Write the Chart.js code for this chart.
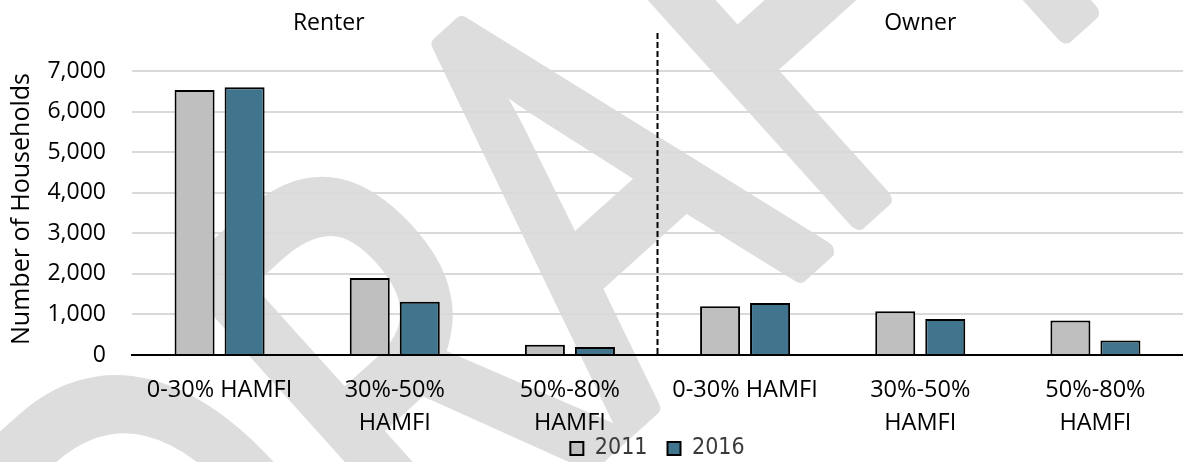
<!DOCTYPE html>
<html>
<head>
<meta charset="utf-8">
<script src="https://cdn.jsdelivr.net/npm/chart.js@4.4.1/dist/chart.umd.min.js"></script>
<style>
  html, body { margin: 0; padding: 0; background: #ffffff; }
  #wrap { width: 1183px; height: 462px; position: relative; }
</style>
</head>
<body>
<div id="wrap"><canvas id="chart"></canvas></div>
<script>
// Household counts by income band (HAMFI) and tenure
const categories = [
  '0-30% HAMFI',
  ['30%-50%', 'HAMFI'],
  ['50%-80%', 'HAMFI'],
  '0-30% HAMFI',
  ['30%-50%', 'HAMFI'],
  ['50%-80%', 'HAMFI']
];
const tenureGroups = ['Renter', 'Owner'];
const seriesNames = ['2011', '2016'];
const households2011 = [6530, 1900, 250, 1200, 1080, 850];
const households2016 = [6600, 1310, 200, 1280, 890, 360];
const yTicks = [0, 1000, 2000, 3000, 4000, 5000, 6000, 7000];

const FONT = "'Open Sans', 'DejaVu Sans', sans-serif";

// Faint diagonal, slightly condensed "DRAFT" watermark behind the plot
const watermark = {
  id: 'watermark',
  beforeDraw(chart) {
    const ctx = chart.ctx;
    const size = 570;
    const squeeze = 0.75;
    const theta = 42 * Math.PI / 180;
    ctx.save();
    ctx.font = size + 'px ' + FONT;
    const before = ctx.measureText('DR').width;
    const aWidth = ctx.measureText('A').width;
    const cap = 0.714 * size;
    // anchor the apex of the "A" just above the plot
    const apex = { x: 453, y: 37 };
    const ux = Math.cos(theta), uy = -Math.sin(theta);
    const dx = Math.sin(theta), dy = Math.cos(theta);
    const along = squeeze * (before + aWidth / 2);
    const ox = apex.x - along * ux + cap * dx;
    const oy = apex.y - along * uy + cap * dy;
    ctx.translate(ox, oy);
    ctx.rotate(-theta);
    ctx.scale(squeeze, 1);
    ctx.fillStyle = '#dddddd';
    ctx.strokeStyle = '#dddddd';
    ctx.lineWidth = 20;
    ctx.lineJoin = 'round';
    ctx.textAlign = 'left';
    ctx.textBaseline = 'alphabetic';
    ctx.fillText('DRAFT', 0, 0);
    ctx.strokeText('DRAFT', 0, 0);
    ctx.restore();
  },
  // let the two-line category labels run below the axis box
  afterLayout(chart) {
    chart.scales.x._computeLabelArea = () => null;
  }
};

// Tenure divider, group headings and vertical axis title
const tenureDivider = {
  id: 'tenureDivider',
  afterDatasetsDraw(chart) {
    const ctx = chart.ctx;
    const x = chart.scales.x;
    const area = chart.chartArea;
    const splitX = (x.getPixelForValue(2) + x.getPixelForValue(3)) / 2;
    ctx.save();
    ctx.strokeStyle = '#000000';
    ctx.lineWidth = 2;
    ctx.setLineDash([6, 3]);
    ctx.beginPath();
    ctx.moveTo(splitX, area.top - 38);
    ctx.lineTo(splitX, area.bottom);
    ctx.stroke();
    ctx.setLineDash([]);
    ctx.fillStyle = '#000000';
    ctx.font = '23px ' + FONT;
    ctx.textAlign = 'center';
    ctx.textBaseline = 'middle';
    ctx.fillText(tenureGroups[0], splitX / 2, 23);
    ctx.fillText(tenureGroups[1], (splitX + chart.width) / 2, 23);
    ctx.font = '25px ' + FONT;
    ctx.translate(22, (area.top + area.bottom) / 2 - 4);
    ctx.rotate(-Math.PI / 2);
    ctx.fillText('Number of Households', 0, 0);
    ctx.restore();
  }
};

new Chart(document.getElementById('chart'), {
  type: 'bar',
  data: {
    labels: categories,
    datasets: [
      {
        label: seriesNames[0],
        data: households2011,
        backgroundColor: '#bfbfbf',
        borderColor: '#000000',
        borderWidth: 2
      },
      {
        label: seriesNames[1],
        data: households2016,
        backgroundColor: '#41758d',
        borderColor: '#000000',
        borderWidth: 2
      }
    ]
  },
  options: {
    responsive: true,
    maintainAspectRatio: false,
    animation: false,
    categoryPercentage: 0.571,
    barPercentage: 0.8,
    layout: { padding: { top: 71, left: 0, right: 0, bottom: -8 } },
    plugins: {
      legend: {
        position: 'bottom',
        fullSize: false,
        labels: {
          boxWidth: 13,
          boxHeight: 13,
          padding: 20,
          color: '#3a3a3a',
          font: { family: "'Liberation Sans Narrow', 'DejaVu Sans Condensed', sans-serif", size: 23 }
        }
      },
      tooltip: { enabled: false }
    },
    scales: {
      x: {
        afterFit(scale) { scale.height = 62; },
        grid: { display: false, drawTicks: false },
        border: { display: true, color: '#000000', width: 2 },
        ticks: {
          color: '#000000',
          font: { family: FONT, size: 23.5, lineHeight: 1.4 },
          padding: 19,
          maxRotation: 0,
          autoSkip: false
        }
      },
      y: {
        min: 0,
        max: 7000,
        afterFit(scale) { scale.width = 132; },
        afterBuildTicks(scale) { scale.ticks = yTicks.map(v => ({ value: v })); },
        grid: { color: '#d9d9d9', lineWidth: 2, drawTicks: false },
        border: { display: false },
        ticks: {
          color: '#000000',
          font: { family: FONT, size: 23 },
          padding: 26,
          callback: v => v.toLocaleString('en-US')
        }
      }
    }
  },
  plugins: [watermark, tenureDivider]
});
</script>
</body>
</html>
